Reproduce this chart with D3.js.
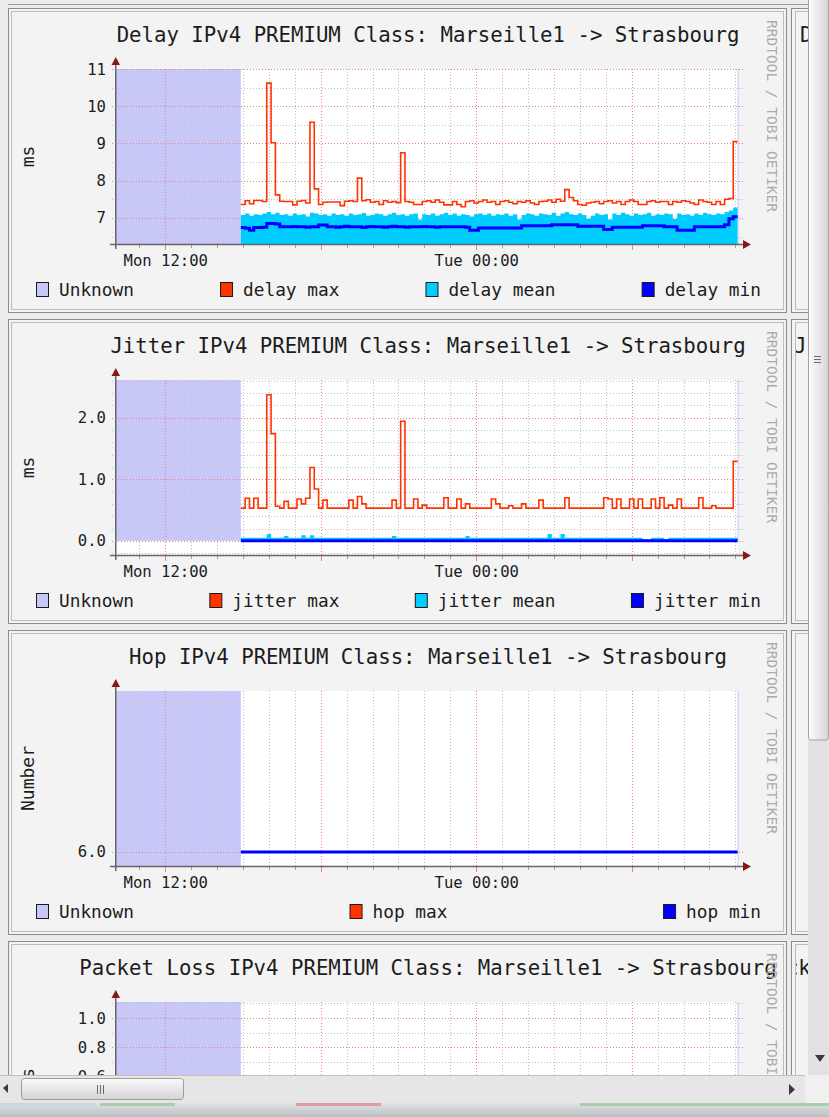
<!DOCTYPE html>
<html>
<head>
<meta charset="utf-8" />
<title>RRD</title>
<script src="https://cdn.jsdelivr.net/npm/d3@7"></script>
<style>
  html,
  body {
    margin: 0;
    padding: 0;
    overflow: hidden;
    background: #ececec;
  }
  svg {
    display: block;
  }
  text {
    font-family: "DejaVu Sans Mono", monospace;
  }
</style>
</head>
<body>
<svg id="graf" width="829" height="1117"></svg>
<script>
// Ventana de tiempo (24 h) y muestras cada 10 minutos
const ventana = ["2012-10-01 10:06", "2012-10-02 10:06"]
const inicioMuestras = "2012-10-01 14:55"
const pasoMin = 10
// series planas: primer y ultimo instante con datos
const tiemposPlanos = ["2012-10-01 14:55", "2012-10-02 10:05"]

const etiquetasTiempo = ["Mon 12:00", "Tue 00:00"]
const tiemposEtiquetas = ["2012-10-01 12:00", "2012-10-02 00:00"]

// Delay (ms)
const delayMax = [
  7.36, 7.46, 7.38, 7.47, 7.47, 7.44, 10.62, 9.02, 7.62, 7.45,
  7.44, 7.44, 7.35, 7.45, 7.47, 7.40, 9.57, 7.78, 7.36, 7.42,
  7.43, 7.43, 7.43, 7.33, 7.45, 7.46, 7.44, 8.07, 7.46, 7.49,
  7.42, 7.44, 7.36, 7.46, 7.42, 7.44, 7.41, 8.75, 7.44, 7.42,
  7.36, 7.36, 7.44, 7.46, 7.42, 7.48, 7.42, 7.35, 7.35, 7.44,
  7.36, 7.30, 7.44, 7.46, 7.40, 7.44, 7.48, 7.42, 7.44, 7.36,
  7.44, 7.46, 7.42, 7.38, 7.44, 7.42, 7.46, 7.40, 7.36, 7.44,
  7.45, 7.48, 7.42, 7.50, 7.45, 7.76, 7.55, 7.46, 7.36, 7.34,
  7.40, 7.42, 7.44, 7.38, 7.44, 7.46, 7.40, 7.44, 7.36, 7.44,
  7.48, 7.44, 7.36, 7.36, 7.44, 7.46, 7.42, 7.44, 7.44, 7.36,
  7.44, 7.42, 7.46, 7.44, 7.40, 7.36, 7.48, 7.44, 7.42, 7.36,
  7.44, 7.36, 7.50, 7.52, 9.05,
]
const delayMean = [
  7.08, 7.12, 7.06, 7.10, 7.08, 7.12, 7.16, 7.10, 7.14, 7.08,
  7.10, 7.06, 7.12, 7.08, 7.10, 7.04, 7.14, 7.12, 7.08, 7.10,
  7.06, 7.12, 7.08, 7.10, 7.06, 7.12, 7.08, 7.10, 7.13, 7.06,
  7.08, 7.12, 7.10, 7.06, 7.10, 7.14, 7.08, 7.10, 7.06, 7.10,
  7.12, 6.96, 7.10, 7.08, 7.12, 7.06, 7.10, 7.14, 7.08, 7.12,
  7.06, 7.10, 7.08, 7.04, 7.10, 7.12, 7.08, 7.12, 7.06, 7.10,
  7.08, 7.12, 7.06, 7.10, 6.96, 7.08, 7.12, 7.10, 7.06, 7.12,
  7.10, 7.08, 7.14, 7.06, 7.12, 7.16, 7.10, 7.08, 7.12, 7.08,
  6.98, 7.06, 7.12, 7.08, 7.10, 6.96, 7.12, 7.08, 7.14, 7.10,
  7.06, 7.12, 7.08, 7.10, 7.14, 7.06, 7.10, 7.08, 7.12, 7.10,
  6.97, 7.12, 7.08, 7.10, 7.06, 7.12, 7.08, 7.14, 7.10, 7.08,
  7.12, 7.10, 7.16, 7.20, 7.28,
]
const delayMin = [
  6.74, 6.72, 6.67, 6.74, 6.74, 6.75, 6.85, 6.85, 6.84, 6.76,
  6.76, 6.76, 6.77, 6.76, 6.76, 6.75, 6.76, 6.76, 6.81, 6.81,
  6.76, 6.76, 6.75, 6.76, 6.78, 6.76, 6.76, 6.76, 6.74, 6.76,
  6.77, 6.76, 6.76, 6.75, 6.76, 6.78, 6.76, 6.76, 6.75, 6.76,
  6.76, 6.76, 6.77, 6.76, 6.76, 6.75, 6.76, 6.76, 6.76, 6.76,
  6.76, 6.76, 6.75, 6.67, 6.67, 6.73, 6.73, 6.73, 6.73, 6.73,
  6.73, 6.73, 6.73, 6.73, 6.73, 6.79, 6.79, 6.79, 6.79, 6.79,
  6.79, 6.79, 6.82, 6.82, 6.82, 6.82, 6.82, 6.82, 6.78, 6.78,
  6.78, 6.78, 6.78, 6.78, 6.69, 6.69, 6.75, 6.75, 6.75, 6.75,
  6.75, 6.75, 6.75, 6.79, 6.79, 6.79, 6.79, 6.79, 6.76, 6.76,
  6.76, 6.67, 6.67, 6.67, 6.67, 6.76, 6.76, 6.76, 6.76, 6.76,
  6.76, 6.76, 6.82, 6.98, 7.03,
]

// Jitter (ms)
const jitterMax = [
  0.53, 0.69, 0.53, 0.69, 0.53, 0.53, 2.37, 1.74, 0.56, 0.53,
  0.64, 0.53, 0.53, 0.68, 0.60, 0.69, 1.19, 0.84, 0.53, 0.66,
  0.53, 0.53, 0.53, 0.53, 0.53, 0.66, 0.53, 0.72, 0.60, 0.53,
  0.53, 0.53, 0.53, 0.53, 0.53, 0.66, 0.53, 1.94, 0.53, 0.53,
  0.68, 0.53, 0.58, 0.53, 0.53, 0.53, 0.53, 0.70, 0.53, 0.53,
  0.68, 0.53, 0.60, 0.53, 0.53, 0.53, 0.53, 0.53, 0.68, 0.60,
  0.53, 0.53, 0.57, 0.53, 0.53, 0.60, 0.53, 0.53, 0.53, 0.66,
  0.53, 0.53, 0.53, 0.53, 0.53, 0.70, 0.53, 0.53, 0.53, 0.53,
  0.53, 0.53, 0.53, 0.53, 0.70, 0.68, 0.53, 0.68, 0.53, 0.53,
  0.68, 0.53, 0.68, 0.53, 0.53, 0.68, 0.53, 0.70, 0.53, 0.58,
  0.53, 0.68, 0.53, 0.53, 0.53, 0.53, 0.70, 0.53, 0.53, 0.57,
  0.53, 0.53, 0.53, 0.53, 1.29,
]
const jitterMean = [
  0.05, 0.05, 0.05, 0.05, 0.05, 0.05, 0.11, 0.05, 0.05, 0.05,
  0.08, 0.05, 0.05, 0.05, 0.09, 0.05, 0.09, 0.05, 0.05, 0.05,
  0.05, 0.05, 0.05, 0.05, 0.05, 0.05, 0.05, 0.05, 0.05, 0.05,
  0.05, 0.05, 0.05, 0.05, 0.05, 0.08, 0.05, 0.05, 0.05, 0.05,
  0.05, 0.05, 0.05, 0.05, 0.05, 0.05, 0.05, 0.05, 0.05, 0.05,
  0.05, 0.05, 0.08, 0.05, 0.05, 0.05, 0.05, 0.05, 0.05, 0.05,
  0.05, 0.05, 0.05, 0.05, 0.05, 0.05, 0.05, 0.05, 0.05, 0.05,
  0.05, 0.11, 0.05, 0.05, 0.11, 0.05, 0.05, 0.05, 0.05, 0.05,
  0.05, 0.05, 0.05, 0.05, 0.05, 0.05, 0.05, 0.05, 0.05, 0.05,
  0.05, 0.05, 0.05, 0.02, 0.02, 0.05, 0.05, 0.05, 0.03, 0.05,
  0.05, 0.05, 0.05, 0.05, 0.05, 0.05, 0.05, 0.05, 0.05, 0.05,
  0.05, 0.05, 0.05, 0.05, 0.05,
]
const jitterMin = [0.0, 0.0]

// Hop (numero)
const hopMax = [6.0, 6.0]
const hopMin = [6.0, 6.0]

// Packet loss
const lossMax = [0.0, 0.0]

// Ejes Y
const delayRango = [6.3, 11]
const delayTicks = [7, 8, 9, 10, 11]
const delayEtiquetas = ["7", "8", "9", "10", "11"]
const jitterRango = [-0.23, 2.61]
const jitterTicks = [0, 1, 2]
const jitterEtiquetas = ["0.0", "1.0", "2.0"]
const hopRango = [5.913, 7.0]
const hopTicks = [6]
const hopEtiquetas = ["6.0"]
const lossRango = [-0.09, 1.11]
const lossTicks = [0, 0.2, 0.4, 0.6, 0.8, 1.0]
const lossEtiquetas = ["0.0", "0.2", "0.4", "0.6", "0.8", "1.0"]

// Titulos y leyendas
const titulos = [
  "Delay IPv4 PREMIUM Class: Marseille1 -> Strasbourg",
  "Jitter IPv4 PREMIUM Class: Marseille1 -> Strasbourg",
  "Hop IPv4 PREMIUM Class: Marseille1 -> Strasbourg",
  "Packet Loss IPv4 PREMIUM Class: Marseille1 -> Strasbourg",
]
const unidades = ["ms", "ms", "Number", "Loss"]
const delayLeyenda = ["Unknown", "delay max", "delay mean", "delay min"]
const jitterLeyenda = ["Unknown", "jitter max", "jitter mean", "jitter min"]
const hopLeyenda = ["Unknown", "hop max", "hop min"]

const draw = () => {
  const graf = d3.select("#graf")
  const parse = d3.timeParse("%Y-%m-%d %H:%M")

  // Colores
  const cUnknown = "#c8c8f8"
  const cMax = "#ff3300"
  const cMean = "#00ccff"
  const cMin = "#0000ff"
  const cGrid = "#c2c2c2"
  const cMGrid = "#f08080"
  const cEje = "#666"
  const cFlecha = "#861818"
  const cTexto = "#1c1c1c"

  // Dimensiones (relativas a cada panel)
  const PANEL = 311
  const plot = { left: 116, right: 738, top: 69, bottom: 244 }
  const visibleHasta = 1075

  const t0 = parse(inicioMuestras)
  const tMuestra = (i) => d3.timeMinute.offset(t0, i * pasoMin)

  const x = d3
    .scaleTime()
    .domain(ventana.map(parse))
    .range([plot.left, plot.right])

  const puntos = (s) => {
    if (s.plano) {
      const ts = tiemposPlanos.map(parse)
      return s.v.map((v, i) => [ts[i], v])
    }
    const pts = s.v.map((v, i) => [tMuestra(i), v])
    pts.push([tMuestra(s.v.length), s.v[s.v.length - 1]])
    return pts
  }

  const graficas = [
    {
      rango: delayRango, ticks: delayTicks, etiquetas: delayEtiquetas, menor: 0.5,
      leyenda: delayLeyenda, colores: [cUnknown, cMax, cMean, cMin],
      series: [
        { v: delayMean, tipo: "area", color: cMean },
        { v: delayMax, tipo: "linea", color: cMax, ancho: 1.6 },
        { v: delayMin, tipo: "linea", color: cMin, ancho: 3 },
      ],
    },
    {
      rango: jitterRango, ticks: jitterTicks, etiquetas: jitterEtiquetas, menor: 0.2,
      leyenda: jitterLeyenda, colores: [cUnknown, cMax, cMean, cMin],
      series: [
        { v: jitterMean, tipo: "area", color: cMean },
        { v: jitterMax, tipo: "linea", color: cMax, ancho: 1.6 },
        { v: jitterMin, tipo: "linea", color: cMin, ancho: 3, plano: true },
      ],
    },
    {
      rango: hopRango, ticks: hopTicks, etiquetas: hopEtiquetas, menor: null,
      leyenda: hopLeyenda, colores: [cUnknown, cMax, cMin],
      series: [
        { v: hopMax, tipo: "linea", color: cMax, ancho: 1.6, plano: true },
        { v: hopMin, tipo: "linea", color: cMin, ancho: 3, plano: true },
      ],
    },
    {
      rango: lossRango, ticks: lossTicks, etiquetas: lossEtiquetas, menor: 0.1,
      leyenda: [], colores: [],
      series: [{ v: lossMax, tipo: "linea", color: cMax, ancho: 1.6, plano: true }],
    },
  ]

  // Recortes y degradados
  const defs = graf.append("defs")
  defs.append("clipPath").attr("id", "vista")
    .append("rect").attr("width", 808).attr("height", visibleHasta)
  defs.append("clipPath").attr("id", "colder")
    .append("rect").attr("x", 796).attr("width", 12).attr("height", visibleHasta)

  const gradV = defs.append("linearGradient").attr("id", "gradV")
    .attr("x1", 0).attr("x2", 1).attr("y1", 0).attr("y2", 0)
  gradV.append("stop").attr("offset", 0).attr("stop-color", "#fdfdfd")
  gradV.append("stop").attr("offset", 1).attr("stop-color", "#d6d6d6")
  const gradH = defs.append("linearGradient").attr("id", "gradH")
    .attr("x1", 0).attr("x2", 0).attr("y1", 0).attr("y2", 1)
  gradH.append("stop").attr("offset", 0).attr("stop-color", "#fbfbfb")
  gradH.append("stop").attr("offset", 1).attr("stop-color", "#d4d4d4")
  const gradT = defs.append("linearGradient").attr("id", "gradT")
    .attr("x1", 0).attr("x2", 0).attr("y1", 0).attr("y2", 1)
  gradT.append("stop").attr("offset", 0).attr("stop-color", "#dfe3e6")
  gradT.append("stop").attr("offset", 1).attr("stop-color", "#b9bec2")

  const page = graf.append("g").attr("clip-path", "url(#vista)")
  page.append("rect").attr("width", 829).attr("height", 1117).attr("fill", "#ececec")
  page.append("line").attr("x1", 8).attr("x2", 808).attr("y1", 4.5).attr("y2", 4.5)
    .attr("stroke", "#9a9a9a")

  graficas.forEach((c, k) => {
    const oy = k * PANEL
    const g = page.append("g").attr("transform", `translate(0, ${oy})`)
    // lo que cae del todo bajo la barra horizontal no se dibuja
    const seVe = (yy) => yy + oy < visibleHasta

    // Marco
    g.append("rect").attr("x", 8.5).attr("y", 8.5).attr("width", 778).attr("height", 304)
      .attr("fill", "#f3f3f3").attr("stroke", "#8c8c8c")
    g.append("rect").attr("x", 11.5).attr("y", 11.5).attr("width", 772).attr("height", 298)
      .attr("fill", "none").attr("stroke", "#bcbcbc")

    const y = d3.scaleLinear().domain(c.rango).range([plot.bottom, plot.top])
    const yCero = Math.min(y(Math.max(0, c.rango[0])), plot.bottom)

    // Lienzo
    g.append("rect")
      .attr("x", plot.left).attr("y", plot.top)
      .attr("width", plot.right - plot.left).attr("height", plot.bottom - plot.top)
      .attr("fill", "#fff")

    // Zona sin datos
    g.append("rect")
      .attr("x", plot.left).attr("y", plot.top)
      .attr("width", x(t0) - plot.left).attr("height", yCero - plot.top)
      .attr("fill", cUnknown)
    g.append("rect")
      .attr("x", x(tMuestra(115))).attr("y", plot.top)
      .attr("width", 1).attr("height", yCero - plot.top)
      .attr("fill", cUnknown)

    // Rejilla vertical (cada hora, mayor cada 6 h)
    const horas = d3.timeHour.range(x.domain()[0], x.domain()[1])
    g.append("g")
      .selectAll("line")
      .data(horas)
      .join("line")
      .attr("x1", (d) => Math.round(x(d)) + 0.5)
      .attr("x2", (d) => Math.round(x(d)) + 0.5)
      .attr("y1", plot.top)
      .attr("y2", plot.bottom)
      .attr("stroke", (d) => (d.getHours() % 6 === 0 ? cMGrid : cGrid))
      .attr("stroke-dasharray", "1,2")
    g.append("g")
      .selectAll("line")
      .data(horas)
      .join("line")
      .attr("x1", (d) => Math.round(x(d)) + 0.5)
      .attr("x2", (d) => Math.round(x(d)) + 0.5)
      .attr("y1", plot.bottom)
      .attr("y2", (d) => plot.bottom + (d.getHours() % 6 === 0 ? 6 : 4))
      .attr("stroke", (d) => (d.getHours() % 6 === 0 ? cMGrid : "#a0a0a0"))

    // Rejilla horizontal
    let menores = []
    if (c.menor) {
      menores = d3
        .range(Math.ceil(c.rango[0] / c.menor), Math.floor(c.rango[1] / c.menor) + 1)
        .map((i) => +(i * c.menor).toFixed(3))
        .filter((v) => !c.ticks.some((t) => Math.abs(t - v) < 1e-6))
    }
    const hlineas = menores.map((v) => ({ v, mayor: false }))
      .concat(c.ticks.map((v) => ({ v, mayor: true })))
    g.append("g")
      .selectAll("line")
      .data(hlineas)
      .join("line")
      .attr("x1", 112)
      .attr("x2", 743)
      .attr("y1", (d) => Math.round(y(d.v)) + 0.5)
      .attr("y2", (d) => Math.round(y(d.v)) + 0.5)
      .attr("stroke", (d) => (d.mayor ? cMGrid : cGrid))
      .attr("stroke-dasharray", "1,2")

    // Series
    c.series.forEach((s) => {
      const pts = puntos(s)
      if (s.tipo === "area") {
        const area = d3
          .area()
          .curve(d3.curveStepAfter)
          .x((d) => x(d[0]))
          .y0(yCero)
          .y1((d) => y(d[1]))
        g.append("path").datum(pts).attr("d", area).attr("fill", s.color)
      } else {
        const linea = d3
          .line()
          .curve(d3.curveStepAfter)
          .x((d) => x(d[0]))
          .y((d) => y(d[1]))
        g.append("path")
          .datum(pts)
          .attr("d", linea)
          .attr("fill", "none")
          .attr("stroke", s.color)
          .attr("stroke-width", s.ancho)
      }
    })

    // Ejes
    g.append("line")
      .attr("x1", 110).attr("x2", 744)
      .attr("y1", plot.bottom + 0.5).attr("y2", plot.bottom + 0.5)
      .attr("stroke", cEje).attr("stroke-width", 1.5)
    g.append("path")
      .attr("d", `M743,${plot.bottom - 4}L751,${plot.bottom + 0.5}L743,${plot.bottom + 5}Z`)
      .attr("fill", cFlecha)
    g.append("line")
      .attr("x1", plot.left - 0.25).attr("x2", plot.left - 0.25)
      .attr("y1", plot.bottom + 5).attr("y2", plot.top - 5)
      .attr("stroke", cEje).attr("stroke-width", 1.5)
    g.append("path")
      .attr("d", `M${plot.left - 4.5},${plot.top - 4}L${plot.left - 0.25},${plot.top - 12}L${plot.left + 4},${plot.top - 4}Z`)
      .attr("fill", cFlecha)

    const yAxis = d3
      .axisLeft(y)
      .tickValues(c.ticks.filter((t) => seVe(y(t) - 7)))
      .tickFormat((d) => c.etiquetas[c.ticks.indexOf(d)])
      .tickSize(0)
      .tickPadding(10)
    const gy = g.append("g").attr("transform", `translate(${plot.left}, 0)`).call(yAxis)
    gy.select(".domain").remove()
    gy.attr("font-size", 15.6).attr("font-family", null).style("color", cTexto)

    if (seVe(plot.bottom + 24)) {
      const xAxis = d3
        .axisBottom(x)
        .tickValues(tiemposEtiquetas.map(parse))
        .tickFormat((d, i) => etiquetasTiempo[i])
        .tickSize(0)
        .tickPadding(11)
      const gx = g.append("g").attr("transform", `translate(0, ${plot.bottom})`).call(xAxis)
      gx.select(".domain").remove()
      gx.attr("font-size", 15.6).attr("font-family", null).style("color", cTexto)
    }

    // Titulo
    g.append("text")
      .attr("x", 428).attr("y", 42)
      .attr("text-anchor", "middle")
      .attr("font-size", 20.7)
      .attr("fill", cTexto)
      .text(titulos[k])

    // Unidad
    g.append("text")
      .attr("transform", `translate(34, ${(plot.top + plot.bottom) / 2}) rotate(-90)`)
      .attr("text-anchor", "middle")
      .attr("font-size", 18)
      .attr("fill", cTexto)
      .text(unidades[k])

    // Marca de agua
    g.append("text")
      .attr("transform", `translate(767, 20) rotate(90)`)
      .attr("font-size", 14.5)
      .attr("fill", "#ababab")
      .text("RRDTOOL / TOBI OETIKER")

    // Leyenda justificada
    if (c.leyenda.length) {
      const leg = g.append("g")
      const items = leg.selectAll("g").data(c.leyenda).join("g")
      items.append("rect")
        .attr("x", 0.5).attr("y", 282.5)
        .attr("width", 12).attr("height", 14)
        .attr("fill", (d, i) => c.colores[i])
        .attr("stroke", "#1a1a1a")
      items.append("text")
        .attr("x", 23).attr("y", 296)
        .attr("font-size", 17.8)
        .attr("fill", cTexto)
        .text((d) => d)
      const anchos = items.nodes().map((n) => 23 + d3.select(n).select("text").node().getComputedTextLength())
      const hueco = (761 - 36 - d3.sum(anchos)) / (anchos.length - 1)
      let pos = 36
      items.each(function (d, i) {
        d3.select(this).attr("transform", `translate(${pos}, 0)`)
        pos += anchos[i] + hueco
      })
    }

    // Columna derecha (recortada)
    g.append("rect").attr("x", 791.5).attr("y", 8.5).attr("width", 40).attr("height", 304)
      .attr("fill", "#f3f3f3").attr("stroke", "#8c8c8c")
    g.append("rect").attr("x", 795.5).attr("y", 11.5).attr("width", 40).attr("height", 298)
      .attr("fill", "none").attr("stroke", "#bcbcbc")
  })

  // Fragmentos de la columna derecha
  const frag = page.append("g").attr("clip-path", "url(#colder)")
  const fragmentos = [
    { t: "D", x: 800, y: 42 },
    { t: "J", x: 794, y: 353 },
    { t: "Pack", x: 761, y: 975 },
  ]
  frag.selectAll("text").data(fragmentos).join("text")
    .attr("x", (d) => d.x).attr("y", (d) => d.y)
    .attr("font-size", 20.7).attr("fill", "#1c1c1c")
    .text((d) => d.t)

  // Barra de desplazamiento vertical
  graf.append("rect").attr("x", 808).attr("y", 0).attr("width", 21).attr("height", 1075).attr("fill", "#e2e2e2")
  graf.append("rect").attr("x", 808.5).attr("y", -4).attr("width", 20).attr("height", 744).attr("rx", 3)
    .attr("fill", "url(#gradV)").attr("stroke", "#a4a4a4")
  graf.append("g").selectAll("line").data([356, 359, 362]).join("line")
    .attr("x1", 814).attr("x2", 821).attr("y1", (d) => d + 0.5).attr("y2", (d) => d + 0.5)
    .attr("stroke", "#6a6a6a")
  graf.append("path").attr("d", "M815,1055L825,1055L820,1062Z").attr("fill", "#3a3a3a")

  // Barra de desplazamiento horizontal
  graf.append("rect").attr("x", 0).attr("y", 1075).attr("width", 829).attr("height", 28).attr("fill", "#e6e6e6")
  graf.append("line").attr("x1", 0).attr("x2", 805).attr("y1", 1075.5).attr("y2", 1075.5).attr("stroke", "#c2c2c2")
  graf.append("rect").attr("x", 805).attr("y", 1075).attr("width", 24).attr("height", 28).attr("fill", "#f0f0f0")
  graf.append("rect").attr("x", 21.5).attr("y", 1078.5).attr("width", 162).attr("height", 21).attr("rx", 3)
    .attr("fill", "url(#gradH)").attr("stroke", "#9c9c9c")
  graf.append("g").selectAll("line").data([97, 100, 103]).join("line")
    .attr("x1", (d) => d + 0.5).attr("x2", (d) => d + 0.5).attr("y1", 1085).attr("y2", 1094)
    .attr("stroke", "#6a6a6a")
  graf.append("path").attr("d", "M3,1088L8,1084L8,1093Z").attr("fill", "#3a3a3a")
  graf.append("path").attr("d", "M789,1084L795,1089.5L789,1095Z").attr("fill", "#3a3a3a")

  // Barra de tareas
  graf.append("rect").attr("x", 0).attr("y", 1103).attr("width", 829).attr("height", 14).attr("fill", "url(#gradT)")
  const tiras = [
    { x: 0, w: 95, c: "#c9d6e2" },
    { x: 100, w: 75, c: "#a9cfa4" },
    { x: 296, w: 85, c: "#e39a9a" },
    { x: 580, w: 249, c: "#a9cfa4" },
  ]
  graf.append("g").selectAll("rect").data(tiras).join("rect")
    .attr("x", (d) => d.x).attr("y", 1103).attr("width", (d) => d.w).attr("height", 3)
    .attr("fill", (d) => d.c)
}

draw()
</script>
</body>
</html>
